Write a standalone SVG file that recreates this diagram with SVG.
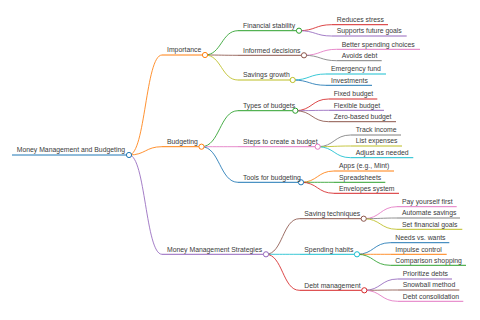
<svg xmlns="http://www.w3.org/2000/svg" width="480" height="320" viewBox="0 0 480 320">
<style>
text{font-family:"Liberation Sans",Arial,sans-serif;font-size:6.85px;fill:#3a3a3a}
path,line{fill:none;stroke-width:1}
circle{fill:#fff;stroke-width:1}
.c0{stroke:#1f77b4}.c1{stroke:#ff7f0e}.c2{stroke:#2ca02c}.c3{stroke:#d62728}.c4{stroke:#9467bd}
.c5{stroke:#8c564b}.c6{stroke:#e377c2}.c7{stroke:#7f7f7f}.c8{stroke:#bcbd22}.c9{stroke:#17becf}
</style>
<rect width="480" height="320" fill="#fff"/>
<g id="connectors" stroke-opacity="0.85">
<path class="c1" stroke-width="1.2" d="M129,155 C145.5,155 145.5,55 162,55"/>
<path class="c1" stroke-width="1.2" d="M129,155 C145.5,155 145.5,146.7 162,146.7"/>
<path class="c4" stroke-width="1.2" d="M129,155 C145.5,155 145.5,254.3 162,254.3"/>
<path class="c2" d="M205,55 C221.5,55 221.5,30.7 238,30.7"/>
<path class="c5" d="M205,55 C221.5,55 221.5,55.3 238,55.3"/>
<path class="c8" d="M205,55 C221.5,55 221.5,80 238,80"/>
<path class="c2" d="M201.5,146.7 C219.75,146.7 219.75,110.7 238,110.7"/>
<path class="c6" d="M201.5,146.7 C219.75,146.7 219.75,146.7 238,146.7"/>
<path class="c0" d="M201.5,146.7 C219.75,146.7 219.75,182.3 238,182.3"/>
<path class="c5" d="M266,254.3 C282.65,254.3 282.65,218.7 299.3,218.7"/>
<path class="c9" d="M266,254.3 C282.65,254.3 282.65,254.3 299.3,254.3"/>
<path class="c3" d="M266,254.3 C282.65,254.3 282.65,290.3 299.3,290.3"/>
<path class="c3" d="M299,30.7 C315.35,30.7 315.35,24.7 331.7,24.7"/>
<path class="c4" d="M299,30.7 C315.35,30.7 315.35,36 331.7,36"/>
<path class="c6" d="M304,55.3 C320.35,55.3 320.35,49.3 336.7,49.3"/>
<path class="c7" d="M304,55.3 C320.35,55.3 320.35,60.7 336.7,60.7"/>
<path class="c9" d="M292.7,80 C309.35,80 309.35,74 326,74"/>
<path class="c0" d="M292.7,80 C309.35,80 309.35,85.3 326,85.3"/>
<path class="c3" d="M295.3,110.7 C312,110.7 312,99 328.7,99"/>
<path class="c4" d="M295.3,110.7 C312,110.7 312,110.3 328.7,110.3"/>
<path class="c5" d="M295.3,110.7 C312,110.7 312,121.7 328.7,121.7"/>
<path class="c7" d="M317.7,146.7 C334.2,146.7 334.2,135 350.7,135"/>
<path class="c8" d="M317.7,146.7 C334.2,146.7 334.2,146 350.7,146"/>
<path class="c9" d="M317.7,146.7 C334.2,146.7 334.2,157.7 350.7,157.7"/>
<path class="c1" d="M301,182.3 C317.5,182.3 317.5,171 334,171"/>
<path class="c2" d="M301,182.3 C317.5,182.3 317.5,182.3 334,182.3"/>
<path class="c3" d="M301,182.3 C317.5,182.3 317.5,193.3 334,193.3"/>
<path class="c6" d="M363.7,218.7 C380.35,218.7 380.35,206.7 397,206.7"/>
<path class="c7" d="M363.7,218.7 C380.35,218.7 380.35,218 397,218"/>
<path class="c8" d="M363.7,218.7 C380.35,218.7 380.35,229.3 397,229.3"/>
<path class="c0" d="M357,254.3 C373.65,254.3 373.65,242.7 390.3,242.7"/>
<path class="c1" d="M357,254.3 C373.65,254.3 373.65,254.3 390.3,254.3"/>
<path class="c2" d="M357,254.3 C373.65,254.3 373.65,265.3 390.3,265.3"/>
<path class="c4" d="M364.3,290.3 C381,290.3 381,279 397.7,279"/>
<path class="c5" d="M364.3,290.3 C381,290.3 381,290 397.7,290"/>
<path class="c6" d="M364.3,290.3 C381,290.3 381,301.3 397.7,301.3"/>
</g>
<g id="n-root"><line class="c0" stroke-width="1.5" x1="12" y1="155" x2="126.4" y2="155"/><circle class="c0" cx="129" cy="155" r="2.6"/><text x="16.7" y="152.3">Money Management and Budgeting</text></g>
<g id="n-importance"><line class="c1" stroke-width="1.2" x1="162" y1="55" x2="202.4" y2="55"/><circle class="c1" cx="205" cy="55" r="2.6"/><text x="167" y="52.2">Importance</text></g>
<g id="n-budgeting"><line class="c1" stroke-width="1.2" x1="162" y1="146.7" x2="198.9" y2="146.7"/><circle class="c1" cx="201.5" cy="146.7" r="2.6"/><text x="167" y="143.9">Budgeting</text></g>
<g id="n-strategies"><line class="c4" stroke-width="1.2" x1="162" y1="254.3" x2="263.4" y2="254.3"/><circle class="c4" cx="266" cy="254.3" r="2.6"/><text x="167" y="251.5">Money Management Strategies</text></g>
<g id="n-fin-stability"><line class="c2" x1="238" y1="30.7" x2="296.4" y2="30.7"/><circle class="c2" cx="299" cy="30.7" r="2.6"/><text x="243" y="27.9">Financial stability</text></g>
<g id="n-informed"><line class="c5" x1="238" y1="55.3" x2="301.4" y2="55.3"/><circle class="c5" cx="304" cy="55.3" r="2.6"/><text x="243" y="52.5">Informed decisions</text></g>
<g id="n-savings-growth"><line class="c8" x1="238" y1="80" x2="290.1" y2="80"/><circle class="c8" cx="292.7" cy="80" r="2.6"/><text x="243" y="77.2">Savings growth</text></g>
<g id="n-types"><line class="c2" x1="238" y1="110.7" x2="292.7" y2="110.7"/><circle class="c2" cx="295.3" cy="110.7" r="2.6"/><text x="243" y="107.9">Types of budgets</text></g>
<g id="n-steps"><line class="c6" x1="238" y1="146.7" x2="315.1" y2="146.7"/><circle class="c6" cx="317.7" cy="146.7" r="2.6"/><text x="243" y="143.9">Steps to create a budget</text></g>
<g id="n-tools"><line class="c0" x1="238" y1="182.3" x2="298.4" y2="182.3"/><circle class="c0" cx="301" cy="182.3" r="2.6"/><text x="243" y="179.5">Tools for budgeting</text></g>
<g id="n-saving-tech"><line class="c5" x1="299.3" y1="218.7" x2="361.1" y2="218.7"/><circle class="c5" cx="363.7" cy="218.7" r="2.6"/><text x="304.3" y="215.9">Saving techniques</text></g>
<g id="n-spending"><line class="c9" x1="299.3" y1="254.3" x2="354.4" y2="254.3"/><circle class="c9" cx="357" cy="254.3" r="2.6"/><text x="304.3" y="251.5">Spending habits</text></g>
<g id="n-debt-mgmt"><line class="c3" x1="299.3" y1="290.3" x2="361.7" y2="290.3"/><circle class="c3" cx="364.3" cy="290.3" r="2.6"/><text x="304.3" y="287.5">Debt management</text></g>
<g id="n-reduces-stress"><line class="c3" x1="331.7" y1="24.7" x2="388" y2="24.7"/><text x="336.7" y="21.9">Reduces stress</text></g>
<g id="n-future-goals"><line class="c4" x1="331.7" y1="36" x2="406.7" y2="36"/><text x="336.7" y="33.2">Supports future goals</text></g>
<g id="n-better-choices"><line class="c6" x1="336.7" y1="49.3" x2="420" y2="49.3"/><text x="341.7" y="46.5">Better spending choices</text></g>
<g id="n-avoids-debt"><line class="c7" x1="336.7" y1="60.7" x2="381.7" y2="60.7"/><text x="341.7" y="57.9">Avoids debt</text></g>
<g id="n-emergency"><line class="c9" x1="326" y1="74" x2="386" y2="74"/><text x="331" y="71.2">Emergency fund</text></g>
<g id="n-investments"><line class="c0" x1="326" y1="85.3" x2="372" y2="85.3"/><text x="331" y="82.5">Investments</text></g>
<g id="n-fixed"><line class="c3" x1="328.7" y1="99" x2="377.3" y2="99"/><text x="333.7" y="96.2">Fixed budget</text></g>
<g id="n-flexible"><line class="c4" x1="328.7" y1="110.3" x2="384" y2="110.3"/><text x="333.7" y="107.5">Flexible budget</text></g>
<g id="n-zero"><line class="c5" x1="328.7" y1="121.7" x2="396" y2="121.7"/><text x="333.7" y="118.9">Zero-based budget</text></g>
<g id="n-track"><line class="c7" x1="350.7" y1="135" x2="401" y2="135"/><text x="355.7" y="132.2">Track income</text></g>
<g id="n-list"><line class="c8" x1="350.7" y1="146" x2="402" y2="146"/><text x="355.7" y="143.2">List expenses</text></g>
<g id="n-adjust"><line class="c9" x1="350.7" y1="157.7" x2="413.3" y2="157.7"/><text x="355.7" y="154.9">Adjust as needed</text></g>
<g id="n-apps"><line class="c1" x1="334" y1="171" x2="394" y2="171"/><text x="339" y="168.2">Apps (e.g., Mint)</text></g>
<g id="n-spreadsheets"><line class="c2" x1="334" y1="182.3" x2="385.3" y2="182.3"/><text x="339" y="179.5">Spreadsheets</text></g>
<g id="n-envelopes"><line class="c3" x1="334" y1="193.3" x2="399" y2="193.3"/><text x="339" y="190.5">Envelopes system</text></g>
<g id="n-pay-first"><line class="c6" x1="397" y1="206.7" x2="456.7" y2="206.7"/><text x="402" y="203.9">Pay yourself first</text></g>
<g id="n-automate"><line class="c7" x1="397" y1="218" x2="460" y2="218"/><text x="402" y="215.2">Automate savings</text></g>
<g id="n-set-goals"><line class="c8" x1="397" y1="229.3" x2="462.3" y2="229.3"/><text x="402" y="226.5">Set financial goals</text></g>
<g id="n-needs"><line class="c0" x1="390.3" y1="242.7" x2="449.3" y2="242.7"/><text x="395.3" y="239.9">Needs vs. wants</text></g>
<g id="n-impulse"><line class="c1" x1="390.3" y1="254.3" x2="446.7" y2="254.3"/><text x="395.3" y="251.5">Impulse control</text></g>
<g id="n-comparison"><line class="c2" x1="390.3" y1="265.3" x2="466" y2="265.3"/><text x="395.3" y="262.5">Comparison shopping</text></g>
<g id="n-prioritize"><line class="c4" x1="397.7" y1="279" x2="452" y2="279"/><text x="402.7" y="276.2">Prioritize debts</text></g>
<g id="n-snowball"><line class="c5" x1="397.7" y1="290" x2="459.3" y2="290"/><text x="402.7" y="287.2">Snowball method</text></g>
<g id="n-consolidation"><line class="c6" x1="397.7" y1="301.3" x2="463.3" y2="301.3"/><text x="402.7" y="298.5">Debt consolidation</text></g>
</svg>
